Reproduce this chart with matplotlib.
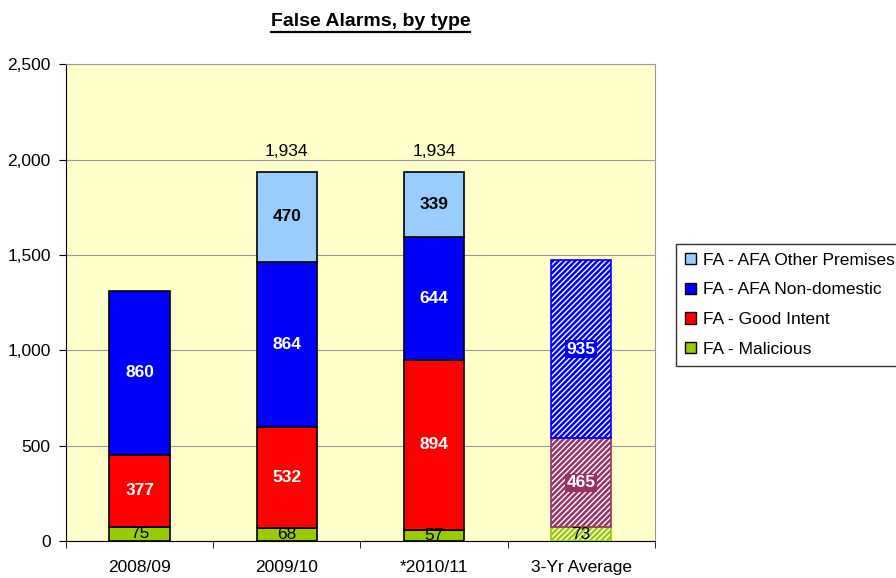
import numpy as np
import matplotlib.pyplot as plt
from matplotlib.patches import Patch
from matplotlib.lines import Line2D

plt.rcParams['font.family'] = ['Liberation Sans', 'DejaVu Sans']

# data
years = ['2008/09', '2009/10', '*2010/11', '3-Yr Average']
malicious = [75, 68, 57, 73]
good_intent = [377, 532, 894, 465]
afa_nondom = [860, 864, 644, 935]
afa_other = [0, 470, 339, 0]
totals = ['', '1,934', '1,934', '']

fig = plt.figure(figsize=(8.96, 5.78), dpi=100)
ax = fig.add_axes([0.0737, 0.064, 0.657, 0.825])
ax.set_facecolor('#FFFFCC')

x = np.arange(len(years))
w = 0.41
n = 3  # solid bars
fs = 12.5

c_mal = '#99CC00'
c_good = '#FF0000'
c_nondom = '#0000FF'
c_other = '#99CCFF'

b1 = np.array(malicious)
b2 = b1 + np.array(good_intent)
b3 = b2 + np.array(afa_nondom)

# solid bars
ax.bar(x[:n], malicious[:n], w, color=c_mal, edgecolor='black', lw=1.2, zorder=3)
ax.bar(x[:n], good_intent[:n], w, bottom=b1[:n], color=c_good, edgecolor='black', lw=1.2, zorder=3)
ax.bar(x[:n], afa_nondom[:n], w, bottom=b2[:n], color=c_nondom, edgecolor='black', lw=1.2, zorder=3)
ax.bar(x[1:n], afa_other[1:n], w, bottom=b3[1:n], color=c_other, edgecolor='black', lw=1.2, zorder=3)

# hatched average bar
i = 3
c_good_avg = '#993366'
for val, bot, col in [(malicious[i], 0, c_mal), (good_intent[i], b1[i], c_good_avg), (afa_nondom[i], b2[i], c_nondom)]:
    ax.bar(x[i], val, w, bottom=bot, color=col, edgecolor='white', hatch='//////', lw=0, zorder=3)
    ax.bar(x[i], val, w, bottom=bot, color='none', edgecolor=col, lw=1.2, zorder=4)

# labels
for j in range(len(years)):
    ax.text(x[j], malicious[j] / 2, str(malicious[j]), ha='center', va='center', fontsize=fs, zorder=5)
    if j < 3:
        ax.text(x[j], b1[j] + good_intent[j] / 2, str(good_intent[j]), ha='center', va='center',
                fontsize=fs, fontweight='bold', color='white', zorder=5)
        ax.text(x[j], b2[j] + afa_nondom[j] / 2, str(afa_nondom[j]), ha='center', va='center',
                fontsize=fs, fontweight='bold', color='white', zorder=5)
    if afa_other[j]:
        ax.text(x[j], b3[j] + afa_other[j] / 2, str(afa_other[j]), ha='center', va='center',
                fontsize=fs, fontweight='bold', color='black', zorder=5)
    if totals[j]:
        ax.text(x[j], b3[j] + afa_other[j] + 110, totals[j], ha='center', va='center', fontsize=fs, zorder=5)

ax.text(x[3], b1[3] + good_intent[3] / 2, str(good_intent[3]), ha='center', va='center', fontsize=fs,
        fontweight='bold', color='white', zorder=5,
        bbox=dict(boxstyle='square,pad=0.1', fc=c_good_avg, ec='none'))
ax.text(x[3], b2[3] + afa_nondom[3] / 2, str(afa_nondom[3]), ha='center', va='center', fontsize=fs,
        fontweight='bold', color='white', zorder=5,
        bbox=dict(boxstyle='square,pad=0.1', fc=c_nondom, ec='none'))

ax.set_xlim(-0.5, 3.5)
ax.set_ylim(0, 2500)
ax.set_yticks(np.arange(0, 2501, 500))
ax.set_yticklabels([f'{v:,}' for v in range(0, 2501, 500)], fontsize=fs)
ax.set_xticks(x)
ax.set_xticklabels(years, fontsize=fs)
ax.set_xticks(np.arange(-0.5, 3.6, 1), minor=True)
ax.tick_params(axis='x', which='major', length=0, pad=14)
ax.tick_params(axis='x', which='minor', length=5, color='black')
ax.tick_params(axis='y', length=5, color='black', direction='out', pad=6)
ax.grid(axis='y', color='#999999', lw=0.8, zorder=0)
for s in ['top', 'right']:
    ax.spines[s].set_color('#999999')
for s in ['left', 'bottom']:
    ax.spines[s].set_color('black')

# title with underline
t = fig.text(0.4135, 0.963, 'False Alarms, by type', ha='center', va='center', fontsize=14, fontweight='bold')
fig.canvas.draw()
bb = t.get_window_extent().transformed(fig.transFigure.inverted())
fig.add_artist(Line2D([bb.x0, bb.x1], [bb.y0 - 0.003, bb.y0 - 0.003], color='black', lw=1.6))

handles = [Patch(fc=c_other, ec='black', label='FA - AFA Other Premises'),
           Patch(fc=c_nondom, ec='black', label='FA - AFA Non-domestic'),
           Patch(fc=c_good, ec='black', label='FA - Good Intent'),
           Patch(fc=c_mal, ec='black', label='FA - Malicious')]
leg = fig.legend(handles=handles, loc='upper left', bbox_to_anchor=(0.755, 0.578), fontsize=fs,
                 frameon=True, fancybox=False, edgecolor='black', handlelength=0.6, handleheight=0.6,
                 handletextpad=0.4, labelspacing=0.85, borderpad=0.5, borderaxespad=0)
leg.get_frame().set_linewidth(1.0)

plt.savefig('out.png', dpi=100)
plt.close()
